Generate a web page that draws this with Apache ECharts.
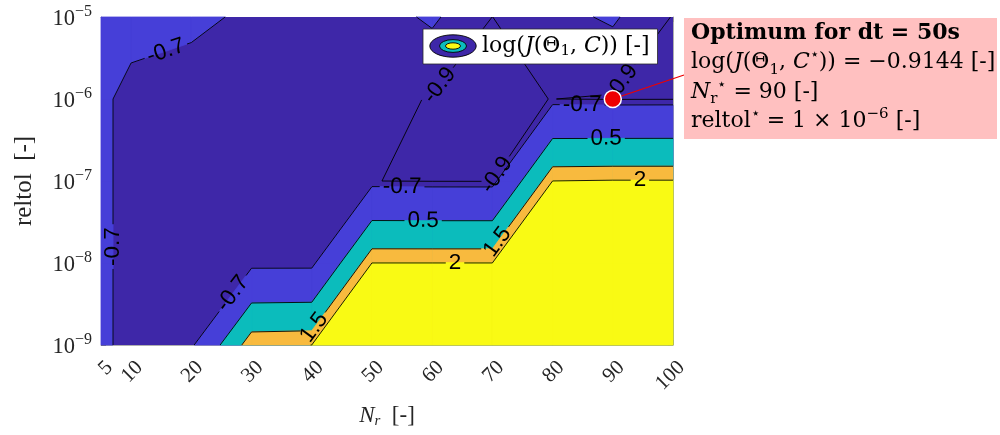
<!DOCTYPE html>
<html>
<head>
<meta charset="utf-8">
<script src="https://cdn.jsdelivr.net/npm/echarts@6/dist/echarts.min.js"></script>
<style>
  html, body { margin: 0; padding: 0; background: #ffffff; }
  #chart { width: 1000px; height: 435px; }
</style>
</head>
<body>
<div id="chart"></div>
<script>
// ---- data: log(J) sampled on the (N_r, reltol) grid ----
const nrValues = [5, 10, 20, 30, 40, 50, 60, 70, 80, 90, 100];
const reltolValues = [1e-9, 1e-8, 1e-7, 1e-6, 1e-5];

// one row per reltol value, one entry per N_r value
const logJ_reltol1e9 = [-0.62, -0.82, -0.83, 1.95, 2.001, 3.0, 3.1, 3.1, 3.2, 3.2, 3.3];
const logJ_reltol1e8 = [-0.62, -0.82, -0.85, -0.88, -0.88, 2.002, 2.002, 2.002, 3.0, 3.0, 3.1];
const logJ_reltol1e7 = [-0.62, -0.82, -0.84, -0.86, -0.87, -0.898, -0.91, -0.912, 2.002, 2.03, 2.03];
const logJ_reltol1e6 = [-0.62, -0.82, -0.85, -0.84, -0.82, -0.84, -0.912, -0.913, -0.899, -0.9144, -0.911];
const logJ_reltol1e5 = [-0.55, -0.547, -0.632, -0.753, -0.8, -0.798, -0.6655, -0.901, -0.762, -0.6707, -0.910];

const contourLevels = [-0.9, -0.7, 0.5, 1.5, 2];
const levelColors = ['#3e27a8', '#463fd8', '#0bbcbc', '#f8ba3e', '#f9fa14'];

const nrTicks = [5, 10, 20, 30, 40, 50, 60, 70, 80, 90, 100];

const optimum = { dt: 50, nr: 90, reltol: 1e-6, logJ: -0.9144 };

// where each inline contour label sits: [level, N_r, log10(reltol)]
const labelAnchors = [
  [-0.7, 15.6, -5.38], [-0.7, 7.2, -7.80], [-0.7, 26.1, -8.33], [-0.9, 61.5, -5.85],
  [-0.7, 55.0, -7.10], [-0.9, 70.0, -6.89], [0.5, 58.5, -7.51], [-0.7, 84.9, -6.13],
  [0.5, 88.9, -6.51], [2, 94.5, -7.02], [1.5, 70.4, -7.72], [2, 63.8, -8.01],
  [1.5, 39.9, -8.76], [-0.9, 91.2, -5.78]
];

// ---- contouring on the grid (x linear, y in log10 space) ----
const Z = [logJ_reltol1e9, logJ_reltol1e8, logJ_reltol1e7, logJ_reltol1e6, logJ_reltol1e5];
const LY = reltolValues.map(v => Math.log10(v));

function cellCorners(i, j) {
  return [
    [nrValues[i], LY[j], Z[j][i]],
    [nrValues[i + 1], LY[j], Z[j][i + 1]],
    [nrValues[i + 1], LY[j + 1], Z[j + 1][i + 1]],
    [nrValues[i], LY[j + 1], Z[j + 1][i]]
  ];
}
function edgePoint(a, b, L) {
  const t = (L - a[2]) / (b[2] - a[2]);
  return [a[0] + t * (b[0] - a[0]), a[1] + t * (b[1] - a[1])];
}
// part of a cell where value >= L
function clipAbove(c, L) {
  const out = [];
  for (let k = 0; k < 4; k++) {
    const a = c[k], b = c[(k + 1) % 4];
    const ain = a[2] >= L, bin = b[2] >= L;
    if (ain) out.push([a[0], a[1]]);
    if (ain !== bin) out.push(edgePoint(a, b, L));
  }
  return out;
}
// iso-line pieces of level L inside a cell
function cellSegments(c, L) {
  const xs = [];
  for (let k = 0; k < 4; k++) {
    const a = c[k], b = c[(k + 1) % 4];
    const ain = a[2] >= L, bin = b[2] >= L;
    if (ain !== bin) xs.push({ p: edgePoint(a, b, L), exit: ain });
  }
  const segs = [];
  for (let m = 0; m < xs.length; m++) {
    if (xs[m].exit) segs.push([xs[m].p, xs[(m + 1) % xs.length].p]);
  }
  return segs;
}

const labelFont = '"Liberation Sans", Arial, sans-serif';
const labelSize = 22.5;
const measureCtx = document.createElement('canvas').getContext('2d');
measureCtx.font = labelSize + 'px ' + labelFont;
const levelText = v => String(v);

function toLocal(p, b) {
  const dx = p[0] - b.cx, dy = p[1] - b.cy;
  return [dx * b.ux + dy * b.uy, dx * b.vx + dy * b.vy];
}
// remove the part of a segment hidden under a label box
function cutSegment(p0, p1, boxes) {
  let pieces = [[p0, p1]];
  for (const b of boxes) {
    const next = [];
    for (const [a, c] of pieces) {
      const la = toLocal(a, b), lc = toLocal(c, b);
      const dx = lc[0] - la[0], dy = lc[1] - la[1];
      const P = [-dx, dx, -dy, dy];
      const Q = [la[0] + b.hw, b.hw - la[0], la[1] + b.hh, b.hh - la[1]];
      let t0 = 0, t1 = 1, hit = true;
      for (let i = 0; i < 4; i++) {
        if (P[i] === 0) { if (Q[i] < 0) { hit = false; break; } }
        else {
          const r = Q[i] / P[i];
          if (P[i] < 0) { if (r > t1) { hit = false; break; } if (r > t0) t0 = r; }
          else { if (r < t0) { hit = false; break; } if (r < t1) t1 = r; }
        }
      }
      if (!hit || t1 <= t0) { next.push([a, c]); continue; }
      const lerp = t => [a[0] + (c[0] - a[0]) * t, a[1] + (c[1] - a[1]) * t];
      if (t0 > 1e-6) next.push([a, lerp(t0)]);
      if (t1 < 1 - 1e-6) next.push([lerp(t1), c]);
    }
    pieces = next;
  }
  return pieces;
}

function renderContours(params, api) {
  const toPx = p => api.coord([p[0], Math.pow(10, p[1])]);
  const nx = nrValues.length, ny = reltolValues.length;
  const children = [];

  // lowest band covers the whole grid, higher bands painted on top
  const full = [[nrValues[0], LY[0]], [nrValues[nx - 1], LY[0]],
                [nrValues[nx - 1], LY[ny - 1]], [nrValues[0], LY[ny - 1]]].map(toPx);
  children.push({ type: 'polygon', shape: { points: full }, style: { fill: levelColors[0] } });

  for (let k = 1; k < contourLevels.length; k++) {
    for (let j = 0; j < ny - 1; j++) {
      for (let i = 0; i < nx - 1; i++) {
        const poly = clipAbove(cellCorners(i, j), contourLevels[k]);
        if (poly.length < 3) continue;
        children.push({
          type: 'polygon', shape: { points: poly.map(toPx) },
          style: { fill: levelColors[k], stroke: levelColors[k], lineWidth: 0.8 }
        });
      }
    }
  }

  // iso-lines in pixel space, per level
  const segsByLevel = contourLevels.map(L => {
    const segs = [];
    for (let j = 0; j < ny - 1; j++) {
      for (let i = 0; i < nx - 1; i++) {
        cellSegments(cellCorners(i, j), L).forEach(s => {
          const a = toPx(s[0]), b = toPx(s[1]);
          if (Math.hypot(a[0] - b[0], a[1] - b[1]) > 0.05) segs.push([a, b]);
        });
      }
    }
    return segs;
  });

  // inline labels snapped onto their iso-line
  const boxesByLevel = contourLevels.map(() => []);
  const labelEls = [];
  labelAnchors.forEach(([L, nr, ly]) => {
    const li = contourLevels.indexOf(L);
    const q = toPx([nr, ly]);
    let best = null;
    segsByLevel[li].forEach(([a, b]) => {
      const dx = b[0] - a[0], dy = b[1] - a[1];
      const len2 = dx * dx + dy * dy;
      let t = ((q[0] - a[0]) * dx + (q[1] - a[1]) * dy) / len2;
      t = Math.max(0, Math.min(1, t));
      const p = [a[0] + t * dx, a[1] + t * dy];
      const d = Math.hypot(p[0] - q[0], p[1] - q[1]);
      if (!best || d < best.d) best = { d, p, dx, dy };
    });
    if (!best) return;
    let th = Math.atan2(-best.dy, best.dx);
    if (th > Math.PI / 2 + 1e-9) th -= Math.PI;
    if (th <= -Math.PI / 2 + 1e-9) th += Math.PI;
    const txt = levelText(L);
    const w = measureCtx.measureText(txt).width;
    boxesByLevel[li].push({
      cx: best.p[0], cy: best.p[1], hw: w / 2 + 3, hh: 9,
      ux: Math.cos(th), uy: -Math.sin(th), vx: Math.sin(th), vy: Math.cos(th)
    });
    labelEls.push({
      type: 'text', x: best.p[0], y: best.p[1], rotation: th,
      style: { text: txt, fill: '#000', fontSize: labelSize, fontFamily: labelFont,
               align: 'center', verticalAlign: 'middle' }
    });
  });

  segsByLevel.forEach((segs, li) => {
    segs.forEach(([a, b]) => {
      cutSegment(a, b, boxesByLevel[li]).forEach(([p, r]) => {
        children.push({
          type: 'line', shape: { x1: p[0], y1: p[1], x2: r[0], y2: r[1] },
          style: { stroke: '#000', lineWidth: 0.9 }
        });
      });
    });
  });

  return { type: 'group', children: children.concat(labelEls) };
}

// ---- text helpers ----
const serif = '"DejaVu Serif", "Liberation Serif", serif';
const tickSerif = '"Liberation Serif", "DejaVu Serif", serif';
const signed = v => (Number(v) < 0 ? '\u2212' : '') + String(v).replace('-', '');

const iconSvg =
  "<svg xmlns='http://www.w3.org/2000/svg' width='48' height='24' viewBox='0 0 48 24'>" +
  "<ellipse cx='24' cy='12' rx='23.2' ry='11.2' fill='" + levelColors[0] + "' stroke='#000' stroke-width='0.9'/>" +
  "<ellipse cx='24' cy='12' rx='13.5' ry='6.4' fill='" + levelColors[2] + "' stroke='#000' stroke-width='0.9'/>" +
  "<ellipse cx='24' cy='12' rx='7.5' ry='3.2' fill='" + levelColors[4] + "' stroke='#000' stroke-width='0.9'/>" +
  "</svg>";
const iconUri = 'image://data:image/svg+xml;charset=utf-8,' + encodeURIComponent(iconSvg);

const optExp = Math.round(Math.log10(optimum.reltol));
const noteText = [
  '{bd|Optimum for dt = ' + optimum.dt + 's}',
  '{n|log(}{i|J}{n|(Θ}{sb|1}{n|, }{i|C}{sp|⋆}{n|)) = ' + signed(optimum.logJ.toFixed(4)) + ' [-]}',
  '{i|N}{sb|r}{sp|⋆}{n| = ' + optimum.nr + ' [-]}',
  '{n|reltol}{sp|⋆}{n| = 1 × 10}{sp|' + signed(optExp) + '}{n| [-]}'
].join('\n');
const noteRich = {
  bd: { fontFamily: serif, fontSize: 22, fontWeight: 'bold', lineHeight: 29.5, color: '#000' },
  n:  { fontFamily: serif, fontSize: 22, lineHeight: 29.5, color: '#000' },
  i:  { fontFamily: serif, fontSize: 22, fontStyle: 'italic', lineHeight: 29.5, color: '#000' },
  sb: { fontFamily: serif, fontSize: 15, lineHeight: 20, verticalAlign: 'bottom', color: '#000' },
  sp: { fontFamily: serif, fontSize: 15, lineHeight: 15, verticalAlign: 'top', color: '#000' }
};

const boxLine = { show: true, lineStyle: { color: '#9a9a9a', width: 0.8 } };

const option = {
  animation: false,
  grid: { left: 101, right: 327, top: 17, bottom: 90, outerBoundsMode: 'none', containLabel: false },
  legend: {
    data: [{ name: 'logJ', icon: iconUri }],
    left: 423, top: 29, orient: 'horizontal',
    itemWidth: 48, itemHeight: 24,
    padding: [5, 8, 5, 6],
    backgroundColor: '#ffffff', borderColor: '#2a2a2a', borderWidth: 0.8,
    selectedMode: false,
    formatter: () => '{n|log(}{i|J}{n|(Θ}{sb|1}{n|, }{i|C}{n|)) [-]}',
    textStyle: {
      rich: {
        n: { fontFamily: serif, fontSize: 22, lineHeight: 26, color: '#000' },
        i: { fontFamily: serif, fontSize: 22, fontStyle: 'italic', lineHeight: 26, color: '#000' },
        sb: { fontFamily: serif, fontSize: 15, lineHeight: 18, verticalAlign: 'bottom', color: '#000' }
      }
    }
  },
  xAxis: [{
    type: 'value', min: nrTicks[0], max: nrTicks[nrTicks.length - 1], position: 'bottom',
    axisLine: boxLine,
    axisTick: { show: true, inside: true, length: 5, customValues: nrTicks, lineStyle: { color: '#777' } },
    axisLabel: {
      customValues: nrTicks, rotate: 45, margin: 11,
      verticalAlign: 'top', lineHeight: 24,
      fontFamily: tickSerif, fontSize: 21, color: '#262626'
    },
    splitLine: { show: false },
    name: '{i|N}{s|r}{n|  [-]}', nameLocation: 'middle', nameGap: 58,
    nameTextStyle: {
      rich: {
        i: { fontFamily: tickSerif, fontSize: 23, fontStyle: 'italic', lineHeight: 26, color: '#262626' },
        s: { fontFamily: tickSerif, fontSize: 15, fontStyle: 'italic', lineHeight: 18, verticalAlign: 'bottom', color: '#262626' },
        n: { fontFamily: tickSerif, fontSize: 23, lineHeight: 26, color: '#262626' }
      }
    }
  }, {
    type: 'value', min: nrTicks[0], max: nrTicks[nrTicks.length - 1], position: 'top',
    axisLine: boxLine,
    axisTick: { show: true, inside: true, length: 5, customValues: nrTicks, lineStyle: { color: '#999' } },
    axisLabel: { show: false }, splitLine: { show: false }
  }],
  yAxis: [{
    type: 'log', logBase: 10, min: reltolValues[0], max: reltolValues[reltolValues.length - 1],
    position: 'left',
    axisLine: boxLine,
    axisTick: { show: true, inside: true, length: 5, lineStyle: { color: '#777' } },
    minorTick: { show: false },
    axisLabel: {
      margin: 9,
      formatter: v => '{b|10}{e|' + signed(Math.round(Math.log10(v))) + '}',
      rich: {
        b: { fontFamily: tickSerif, fontSize: 22.5, lineHeight: 27, verticalAlign: 'bottom', color: '#262626' },
        e: { fontFamily: tickSerif, fontSize: 16, lineHeight: 16, verticalAlign: 'top', color: '#262626' }
      }
    },
    splitLine: { show: false },
    name: 'reltol  [-]', nameLocation: 'middle', nameGap: 64,
    nameTextStyle: { fontFamily: tickSerif, fontSize: 25, color: '#262626' }
  }, {
    type: 'log', logBase: 10, min: reltolValues[0], max: reltolValues[reltolValues.length - 1],
    position: 'right',
    axisLine: boxLine,
    axisTick: { show: true, inside: true, length: 5, lineStyle: { color: '#999' } },
    axisLabel: { show: false }, splitLine: { show: false }
  }],
  series: [{
    name: 'logJ',
    type: 'custom',
    coordinateSystem: 'cartesian2d',
    xAxisIndex: 0, yAxisIndex: 0,
    silent: true, z: 1,
    data: [[nrValues[0], reltolValues[0]]],
    renderItem: renderContours
  }, {
    name: 'optimum',
    type: 'scatter',
    xAxisIndex: 0, yAxisIndex: 0,
    silent: true, z: 10,
    symbol: 'circle', symbolSize: 17,
    itemStyle: { color: '#ee0000', borderColor: '#ffffff', borderWidth: 1.5, opacity: 1 },
    data: [[optimum.nr, optimum.reltol]],
    markLine: {
      silent: true, z: 4, symbol: ['none', 'none'],
      label: { show: false },
      lineStyle: { color: '#ee0000', width: 1.3, type: 'solid' },
      data: [[{ coord: [optimum.nr, optimum.reltol] }, { x: 684, y: 75 }]]
    }
  }],
  graphic: [{
    type: 'rect', left: 684, top: 18, z: 20,
    shape: { width: 313, height: 121 },
    style: { fill: '#ffc0c0' }
  }, {
    type: 'text', left: 691, top: 22, z: 21,
    style: { text: noteText, rich: noteRich }
  }]
};

const chart = echarts.init(document.getElementById('chart'), null, { renderer: 'canvas' });
chart.setOption(option);
</script>
</body>
</html>
